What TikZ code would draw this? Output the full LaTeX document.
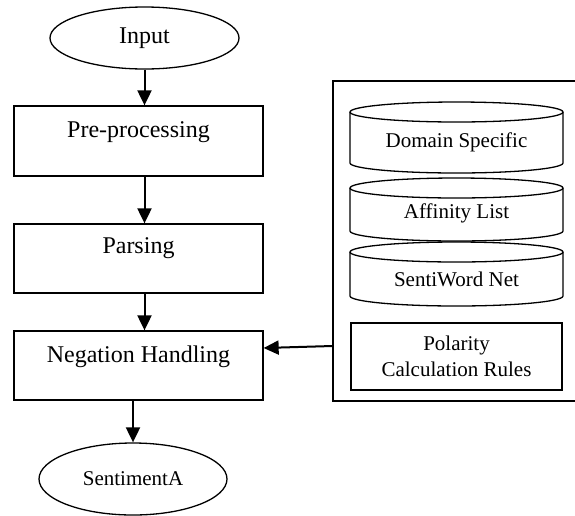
\documentclass[tikz,border=0pt]{standalone}
\usepackage{fontspec}
\setmainfont{Liberation Serif}
\usetikzlibrary{shapes.geometric,arrows.meta}
\begin{document}
\begin{tikzpicture}[x=1pt,y=-1pt,
  box/.style={draw,line width=1.3pt,rectangle,inner sep=0pt},
  oval/.style={draw,line width=1.3pt,ellipse,inner sep=0pt},
  big/.style={font=\fontsize{24}{28}\selectfont},
  small/.style={font=\fontsize{21}{25}\selectfont},
  arr/.style={line width=2pt,-{Triangle[length=15pt,width=14pt]}},
  cyl/.style={line width=1.3pt}]
\useasboundingbox (0,0) rectangle (575,515);
% left column
\node[oval,minimum width=189pt,minimum height=62pt,big] (in) at (144.5,38) {Input};
\node[box,minimum width=249pt,minimum height=70pt] (pre) at (138.5,141) {};
\node[big] (pret) at (138.5,132) {Pre-processing};
\node[box,minimum width=249pt,minimum height=69pt] (par) at (138.5,258.5) {};
\node[big] (part) at (138.5,248) {Parsing};
\node[box,minimum width=249pt,minimum height=69pt] (neg) at (138.5,365.5) {};
\node[big] (negt) at (138.5,357) {Negation Handling};
\node[oval,minimum width=188pt,minimum height=72pt,small] (sent) at (133,479) {SentimentA};
% right knowledge box (right edge lies beyond the page)
\node[box,minimum width=262pt,minimum height=320pt] (kb) at (464,241) {};
% cylinders
\foreach \t/\b in {102/173,178/241,242/306}{
  \draw[cyl] (456.5,\t+10) ellipse [x radius=106.5, y radius=10];
  \draw[cyl] (350,\t+10) -- (350,\b-10)
     arc[start angle=180, end angle=0, x radius=106.5, y radius=10]
     -- (563,\t+10);
}
\node[small] (ds) at (456.5,142) {Domain Specific};
\node[small] (al) at (456.5,213) {Affinity List};
\node[small] (sw) at (456.5,279) {SentiWord Net};
\node[box,minimum width=211pt,minimum height=67pt,small,align=center] (pol) at (456.5,356.5) {Polarity\\[1pt]Calculation Rules};
% connectors
\draw[arr] (in.south) -- (in.south |- pre.north);
\draw[arr] (pre.south -| in.south) -- (par.north -| in.south);
\draw[arr] (par.south -| in.south) -- (neg.north -| in.south);
\draw[arr] (neg.south -| sent.north) -- (sent.north);
\coordinate (kbin) at (kb.west |- 0,346);
\coordinate (negin) at (neg.east |- 0,348);
\draw[arr] (kbin) -- (negin);
\end{tikzpicture}
\end{document}
